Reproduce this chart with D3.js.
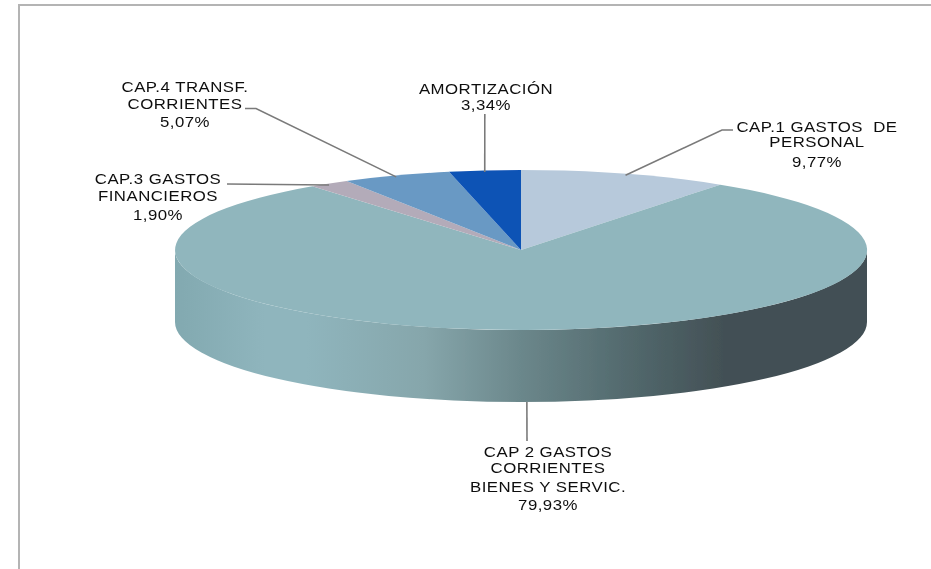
<!DOCTYPE html>
<html>
<head>
<meta charset="utf-8">
<script src="https://cdn.jsdelivr.net/npm/d3@7"></script>
<style>
  html, body { margin: 0; padding: 0; background: #fff; }
  svg { display: block; }
  text { font-family: "Liberation Sans", Arial, sans-serif; font-size: 14px; letter-spacing: 0.4px; fill: #111; text-anchor: middle; white-space: pre; }
</style>
</head>
<body>
<svg id="chart" width="931" height="569"></svg>
<script>
const categories = ['CAP.1 GASTOS DE PERSONAL', 'CAP 2 GASTOS CORRIENTES BIENES Y SERVIC.', 'CAP.3 GASTOS FINANCIEROS', 'CAP.4 TRANSF. CORRIENTES', 'AMORTIZACIÓN'];
const values = [9.77, 79.93, 1.90, 5.07, 3.34];
const labelLines = [
  ['CAP.1 GASTOS  DE', 'PERSONAL'],
  ['CAP 2 GASTOS', 'CORRIENTES', 'BIENES Y SERVIC.'],
  ['CAP.3 GASTOS', 'FINANCIEROS'],
  ['CAP.4 TRANSF.', 'CORRIENTES'],
  ['AMORTIZACIÓN']
];
const colors = ['#b7c9db', '#90b6bd', '#b3abb9', '#6999c4', '#0d52b5'];

// where each label sits and where its leader line bends, in page pixels
const labelLayout = [
  { x: 817, baselines: [132, 147, 167], leader: [[722, 130], [733, 130]] },
  { x: 548, baselines: [457, 473, 492, 510], leader: [[527, 441]] },
  { x: 158, baselines: [184, 201, 220], leader: [[227, 184]] },
  { x: 185, baselines: [92, 109, 127], leader: [[256, 108.5], [245, 108.5]] },
  { x: 486, baselines: [94, 110], leader: [[484.8, 114]] }
];

const cx = 521, cy = 250, rx = 346, ry = 80, depth = 72;
const textStretch = 1.2;

const svg = d3.select('#chart');
const percent = d3.formatLocale({ decimal: ',', thousands: '.', grouping: [3], currency: ['', ''] }).format('.2f');

// frame: only top and left edges are visible
svg.append('path')
  .attr('d', 'M19,569V5H931')
  .attr('fill', 'none')
  .attr('stroke', '#b4b4b4')
  .attr('stroke-width', 2);

const defs = svg.append('defs');
const wallStops = [
  [0, '#82a9b0'], [0.13, '#8fb5bd'], [0.19, '#8fb5bd'], [0.36, '#86a6ab'],
  [0.5, '#6b878b'], [0.65, '#536a6e'], [0.8, '#424f54'], [1, '#424f54']
];
defs.append('linearGradient')
  .attr('id', 'wall')
  .attr('gradientUnits', 'userSpaceOnUse')
  .attr('x1', cx - rx).attr('x2', cx + rx)
  .attr('y1', 0).attr('y2', 0)
  .selectAll('stop')
  .data(wallStops)
  .join('stop')
  .attr('offset', d => d[0])
  .attr('stop-color', d => d[1]);

// the source picture is a resampled bitmap, edges are a bit soft
defs.append('filter')
  .attr('id', 'soft')
  .append('feGaussianBlur')
  .attr('stdDeviation', 0.35);

const scene = svg.append('g').attr('filter', 'url(#soft)');

// side wall of the disc (front half only)
scene.append('path')
  .attr('d', `M${cx - rx},${cy}A${rx},${ry} 0 0 0 ${cx + rx},${cy}V${cy + depth}A${rx},${ry} 0 0 1 ${cx - rx},${cy + depth}Z`)
  .attr('fill', 'url(#wall)');

// top face: unit arcs flattened into an ellipse
const pie = d3.pie().sort(null).value(d => d);
const arcs = pie(values);
const arc = d3.arc().innerRadius(0).outerRadius(1);

scene.append('g')
  .attr('transform', `translate(${cx},${cy}) scale(${rx},${ry})`)
  .selectAll('path')
  .data(arcs)
  .join('path')
  .attr('d', arc)
  .attr('fill', (d, i) => colors[i]);

// point on the rim in the middle of a slice; the one facing front sits on the wall bottom
const anchor = d => {
  const a = (d.startAngle + d.endAngle) / 2;
  const x = cx + rx * Math.sin(a);
  const y = cy - ry * Math.cos(a);
  return [x, Math.cos(a) < -0.5 ? y + depth : y + 1.5];
};

const line = d3.line();
scene.append('g')
  .selectAll('path')
  .data(arcs)
  .join('path')
  .attr('d', (d, i) => line([anchor(d), ...labelLayout[i].leader]))
  .attr('fill', 'none')
  .attr('stroke', '#7a7a7a')
  .attr('stroke-width', 1.6);

scene.append('g')
  .selectAll('text')
  .data(arcs.flatMap((d, i) => {
    const lines = [...labelLines[i], percent(values[i]) + '%'];
    return lines.map((t, k) => ({ t, x: labelLayout[i].x, y: labelLayout[i].baselines[k] }));
  }))
  .join('text')
  .attr('transform', d => `translate(${d.x},${d.y}) scale(${textStretch},1)`)
  .text(d => d.t);
</script>
</body>
</html>
